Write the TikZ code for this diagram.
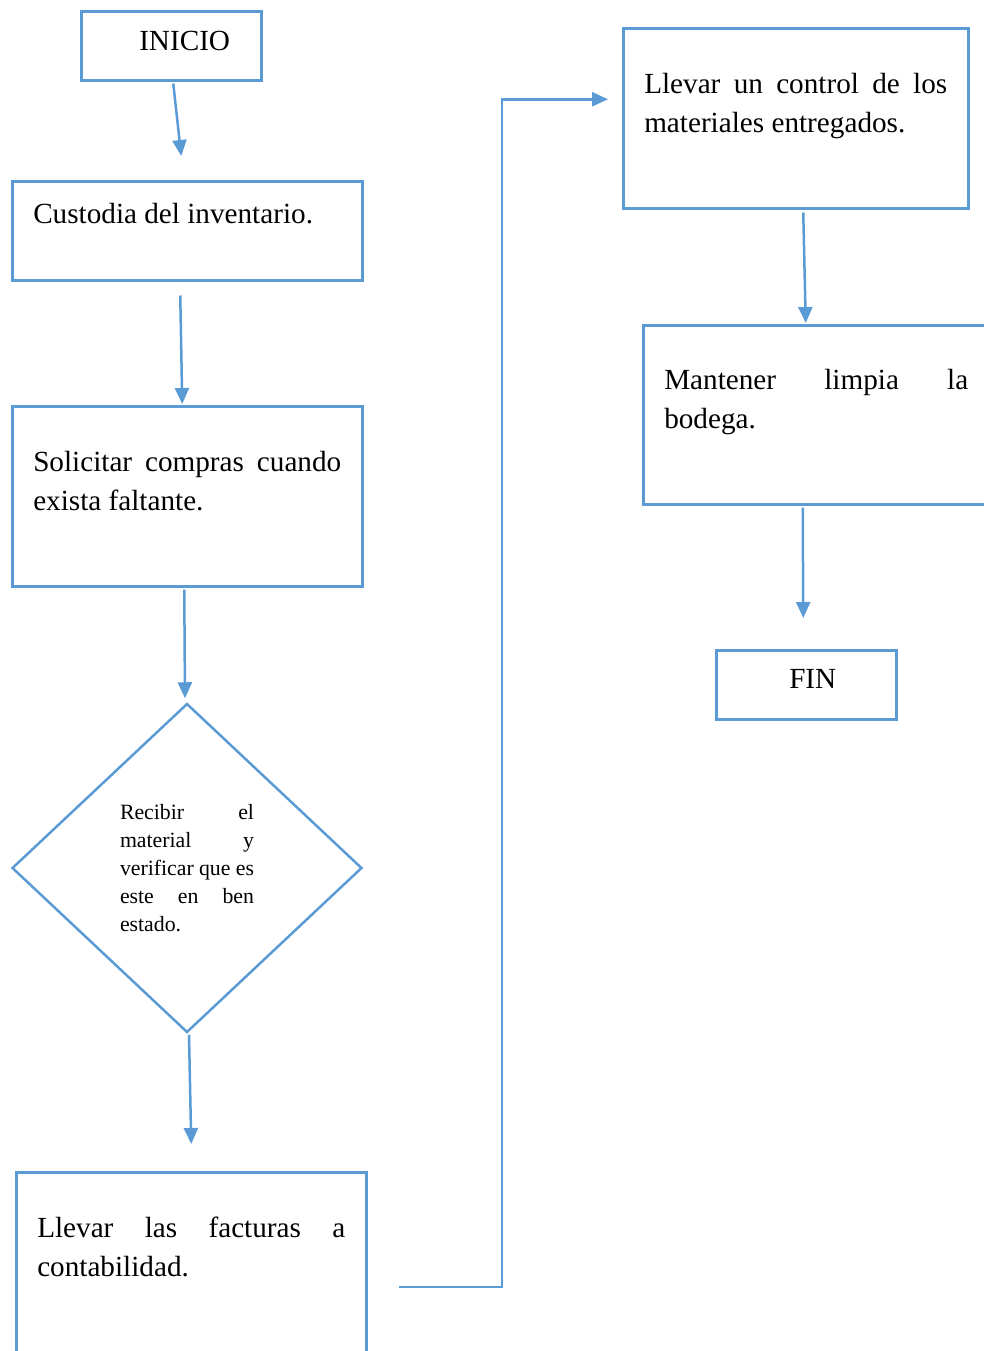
\documentclass[tikz,border=0pt]{standalone}
\usepackage{fontspec}
\setmainfont{Liberation Serif}
\usetikzlibrary{arrows.meta,shapes.geometric,calc}
\definecolor{azul}{HTML}{5B9BD5}
\tolerance=9999
\hyphenpenalty=10000

\begin{document}
\begin{tikzpicture}[x=0.5pt,y=-0.5pt,>={Triangle[length=8pt,width=7pt]},line width=1.25pt]
        \tikzstyle{proceso}=[rectangle,draw=azul,line width=1.25pt,anchor=north west,
            inner xsep=10.5pt,inner ysep=0pt,align=justify,
            font=\fontsize{14.6pt}{19.5pt}\selectfont]
        \tikzstyle{decision}=[diamond,draw=azul,line width=1.25pt,inner sep=0pt,
            minimum width=175pt,minimum height=164.5pt,text width=67pt,align=justify,
            font=\fontsize{10.9pt}{14.1pt}\selectfont]
        \tikzstyle{flecha}=[->,draw=azul,line width=1.25pt]
        \useasboundingbox (0,0) rectangle (984,1351);

        % columna izquierda
        \node[proceso,align=left,text width=69pt,text height=19.5pt,text depth=15pt]
            (inicio) at (80,10) {\hspace*{18.5pt}INICIO};
        \node[proceso,text width=154pt,text height=21pt,text depth=28.5pt]
            (custodia) at (11,180) {Custodia del inventario.};
        \node[proceso,text width=154pt,text height=32.5pt,text depth=57.5pt]
            (solicitar) at (11,405) {Solicitar compras cuando exista faltante.};
        \node[decision] (recibir) at (187,868)
            {Recibir el\linebreak material y\linebreak verificar que es\linebreak
             este en ben\linebreak estado.};
        \node[proceso,text width=154pt,text height=32.5pt,text depth=60pt]
            (facturas) at (15,1171) {Llevar las facturas a contabilidad.};

        % columna derecha
        \node[proceso,text width=151.5pt,text height=32.5pt,text depth=57.5pt]
            (control) at (622,27) {Llevar un control de los materiales entregados.};
        \node[proceso,text width=152pt,text height=32pt,text depth=57.5pt]
            (limpiar) at (642,324) {Mantener limpia la bodega.};
        \node[proceso,align=left,text width=69pt,text height=19pt,text depth=15.5pt]
            (fin) at (715,649) {\hspace*{26pt}FIN};

        \draw[flecha] ($(inicio.south)+(2,2)$) -- ($(custodia.north)+(-6,-24)$);
        \draw[flecha] ($(custodia.south)+(-7,14)$) -- ($(solicitar.north)+(-5,-1)$);
        \draw[flecha] ($(solicitar.south)+(-3,2)$) -- ($(recibir.north)+(-2,-4)$);
        \draw[flecha] ($(recibir.south)+(2,1)$) -- ($(facturas.north)+(0,-27)$);
        \draw[flecha] ($(facturas.east)+(31,22)$) -| ($(control.west)+(-120,-19)$)
            -- ($(control.west)+(-14,-19)$);
        \draw[flecha] ($(control.south)+(7.5,3)$) -- ($(limpiar.north)+(-10.5,-1)$);
        \draw[flecha] ($(limpiar.south)+(-13.5,2)$) -- ($(fin.north)+(-3,-31)$);
\end{tikzpicture}
\end{document}
